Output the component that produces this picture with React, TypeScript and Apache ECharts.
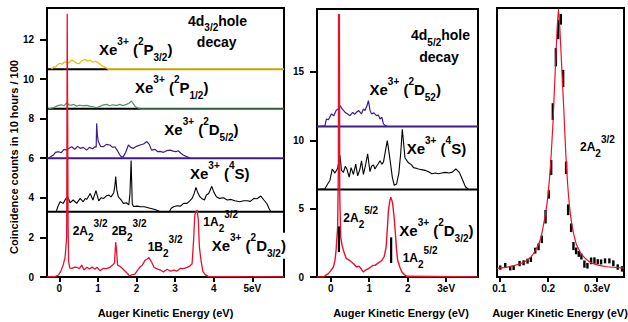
import React, { useEffect, useRef } from "react";
import * as echarts from "echarts";

const FF = "'Liberation Sans', Arial, Helvetica, sans-serif";

// ---------- axis limits & ticks ----------
const P1_X = [-0.319, 5.821];
const P1_Y = [0, 13.59];
const P2_X = [-0.356, 3.826];
const P2_Y = [0, 19.6];
const P3_X = [0.0953, 0.3551];
const P3_Y = [0, 100];
const P1_XTICKS = [0, 1, 2, 3, 4, 5];
const P1_YTICKS = [0, 2, 4, 6, 8, 10, 12];
const P2_XTICKS = [0, 1, 2, 3];
const P2_YTICKS = [0, 5, 10, 15];
const P3_XTICKS = [0.1, 0.2, 0.3];

// ---------- panel 1 : 4d3/2 hole decay ----------
const P1_OFFSETS = [10.5, 8.5, 6.0, 3.3];

const p1YellowE = [-0.2, -0.15, -0.1, -0.05, 0.02, 0.07, 0.12, 0.19, 0.25, 0.32, 0.38, 0.45, 0.52, 0.58, 0.67, 0.73, 0.8, 0.87, 0.93, 0.97, 1.03, 1.1, 1.18, 1.27];
const p1YellowV = [10.5, 10.62, 10.6, 10.72, 10.8, 10.75, 10.85, 10.87, 10.82, 10.96, 10.9, 10.8, 10.78, 10.92, 11.0, 10.9, 10.95, 10.85, 10.9, 10.87, 10.8, 10.67, 10.6, 10.5];

const p1GreenE = [-0.28, -0.15, -0.08, -0.02, 0.05, 0.12, 0.19, 0.25, 0.32, 0.38, 0.45, 0.52, 0.6, 0.71, 0.8, 0.88, 0.97, 1.05, 1.12, 1.23, 1.3, 1.38, 1.49, 1.57, 1.65, 1.74, 1.8, 1.87, 1.92, 1.96, 2.02, 2.09];
const p1GreenV = [8.5, 8.55, 8.62, 8.67, 8.7, 8.65, 8.8, 8.7, 8.68, 8.72, 8.63, 8.68, 8.65, 8.67, 8.62, 8.6, 8.55, 8.62, 8.68, 8.72, 8.65, 8.7, 8.67, 8.72, 8.66, 8.72, 8.78, 8.89, 8.75, 8.63, 8.55, 8.5];

const p1PurpleE = [-0.28, -0.155, -0.1, -0.02, 0.05, 0.12, 0.19, 0.25, 0.32, 0.4, 0.47, 0.54, 0.62, 0.71, 0.78, 0.86, 0.93, 0.955, 0.968, 0.985, 1.01, 1.07, 1.14, 1.22, 1.31, 1.38, 1.44, 1.5, 1.57, 1.62, 1.66, 1.72, 1.79, 1.85, 1.92, 2.0, 2.09, 2.18, 2.27, 2.33, 2.39, 2.48, 2.55, 2.61, 2.7, 2.78, 2.87, 2.95, 3.02, 3.08, 3.15, 3.21, 3.3, 3.38];
const p1PurpleV = [6.0, 6.16, 6.3, 6.33, 6.28, 6.45, 6.41, 6.5, 6.58, 6.45, 6.6, 6.5, 6.55, 6.41, 6.55, 6.48, 6.58, 6.55, 7.76, 7.2, 6.84, 6.6, 6.58, 6.7, 6.67, 6.55, 6.58, 6.4, 6.16, 6.05, 6.08, 6.3, 6.67, 6.55, 6.5, 6.6, 6.67, 6.72, 6.84, 6.7, 6.41, 6.45, 6.33, 6.35, 6.3, 6.38, 6.41, 6.36, 6.33, 6.38, 6.25, 6.16, 6.08, 6.02];

const p1BlackE = [-0.08, -0.04, 0.02, 0.1, 0.17, 0.22, 0.28, 0.36, 0.45, 0.54, 0.62, 0.67, 0.71, 0.8, 0.87, 0.95, 1.02, 1.08, 1.15, 1.22, 1.28, 1.34, 1.41, 1.44, 1.46, 1.49, 1.53, 1.6, 1.66, 1.74, 1.8, 1.83, 1.86, 1.89, 1.92, 2.02, 2.1, 2.2, 2.3, 2.4, 2.48, 2.56, 2.6, 2.85, 2.9, 2.96, 3.05, 3.14, 3.22, 3.31, 3.38, 3.44, 3.49, 3.54, 3.58, 3.64, 3.7, 3.76, 3.81, 3.87, 3.91, 3.95, 4.0, 4.07, 4.15, 4.25, 4.35, 4.45, 4.55, 4.67, 4.78, 4.87, 4.95, 5.04, 5.12, 5.22, 5.3, 5.38, 5.43, 5.48];
const p1BlackV = [3.3, 3.55, 3.8, 3.72, 3.97, 4.05, 3.75, 3.89, 3.72, 3.97, 3.8, 3.97, 3.92, 4.22, 3.89, 4.36, 3.85, 4.0, 3.97, 4.1, 4.14, 4.05, 4.26, 4.6, 5.07, 4.4, 4.05, 3.9, 3.72, 3.75, 3.64, 4.2, 5.88, 3.7, 3.56, 3.58, 3.55, 3.55, 3.5, 3.45, 3.41, 3.35, 3.3, 3.3, 3.47, 3.55, 3.6, 3.58, 3.72, 3.72, 3.85, 3.97, 4.2, 4.52, 4.3, 4.06, 3.95, 3.89, 4.14, 4.22, 4.4, 4.58, 4.3, 4.05, 3.97, 4.0, 3.89, 3.92, 3.85, 3.8, 3.85, 3.85, 3.82, 3.97, 3.95, 4.09, 3.89, 3.7, 3.47, 3.3];

const p1RedE = [-0.32, -0.1, -0.02, 0.04, 0.1, 0.15, 0.19, 0.205, 0.215, 0.228, 0.24, 0.27, 0.33, 0.4, 0.46, 0.52, 0.58, 0.64, 0.72, 0.78, 0.85, 0.92, 0.98, 1.05, 1.15, 1.22, 1.31, 1.38, 1.43, 1.46, 1.48, 1.51, 1.56, 1.63, 1.7, 1.76, 1.82, 1.89, 1.96, 2.02, 2.09, 2.15, 2.22, 2.27, 2.32, 2.36, 2.4, 2.45, 2.52, 2.62, 2.7, 2.79, 2.88, 2.97, 3.05, 3.14, 3.22, 3.31, 3.38, 3.44, 3.48, 3.51, 3.54, 3.57, 3.6, 3.63, 3.67, 3.72, 3.78, 3.86, 5.82];
const p1RedV = [0, 0.03, 0.1, 0.3, 0.6, 1.0, 2.0, 13.3, 13.3, 2.5, 0.8, 0.45, 0.44, 0.5, 0.49, 0.42, 0.6, 0.35, 0.49, 0.4, 0.5, 0.39, 0.49, 0.32, 0.44, 0.42, 0.49, 0.6, 0.7, 1.76, 1.4, 0.6, 0.55, 0.44, 0.3, 0.19, 0.05, 0.12, 0.15, 0.32, 0.5, 0.6, 0.84, 0.9, 0.98, 0.85, 0.72, 0.5, 0.42, 0.35, 0.25, 0.39, 0.3, 0.35, 0.3, 0.44, 0.42, 0.49, 0.55, 0.67, 1.9, 3.13, 3.3, 3.38, 2.9, 1.5, 0.85, 0.27, 0.12, 0.03, 0];

// ---------- panel 2 : 4d5/2 hole decay ----------
const P2_OFFSETS = [11.0, 6.4];

const p2PurpleE = [-0.36, -0.15, -0.11, -0.06, 0.02, 0.08, 0.14, 0.2, 0.24, 0.3, 0.37, 0.44, 0.5, 0.57, 0.62, 0.67, 0.73, 0.8, 0.85, 0.89, 0.94, 0.98, 1.02, 1.06, 1.12, 1.19, 1.24, 1.28, 1.33, 1.37, 1.42, 1.47];
const p2PurpleV = [11, 11.05, 11.56, 11.5, 11.93, 11.8, 12.17, 12.3, 12.53, 12.29, 12.05, 11.92, 11.8, 12.04, 11.9, 12.05, 12.17, 11.93, 12.29, 12.17, 12.5, 12.9, 12.2, 11.93, 12.0, 11.8, 11.85, 11.56, 11.68, 11.2, 11.07, 11.0];

const p2BlackE = [-0.36, -0.15, -0.08, -0.02, 0.04, 0.11, 0.18, 0.24, 0.28, 0.33, 0.38, 0.42, 0.48, 0.53, 0.59, 0.65, 0.7, 0.76, 0.8, 0.85, 0.91, 0.96, 1.02, 1.06, 1.11, 1.15, 1.19, 1.24, 1.28, 1.33, 1.37, 1.43, 1.47, 1.54, 1.6, 1.65, 1.71, 1.77, 1.82, 1.86, 1.93, 2.02, 2.1, 2.15, 2.22, 2.28, 2.36, 2.45, 2.54, 2.63, 2.72, 2.8, 2.88, 2.97, 3.06, 3.15, 3.25, 3.34, 3.41, 3.5, 3.58];
const p2BlackV = [6.4, 6.45, 6.8, 7.06, 7.9, 7.6, 7.95, 8.9, 7.8, 7.65, 8.1, 7.9, 7.3, 8.0, 7.5, 8.25, 7.4, 7.9, 8.5, 7.5, 8.25, 9.0, 7.7, 8.1, 8.2, 7.9, 8.1, 8.3, 8.5, 8.25, 8.4, 9.35, 9.97, 8.6, 7.3, 6.7, 6.8, 7.6, 9.1, 10.8, 8.7, 8.35, 8.2, 8.0, 7.95, 7.9, 7.85, 7.8, 7.7, 7.55, 7.6, 7.55, 7.6, 7.65, 7.6, 7.65, 7.9, 7.65, 7.2, 6.6, 6.4];

const p2RedE = [-0.36, -0.19, -0.12, -0.06, 0.0, 0.07, 0.11, 0.14, 0.18, 0.2, 0.205, 0.225, 0.235, 0.26, 0.29, 0.33, 0.37, 0.41, 0.47, 0.54, 0.6, 0.67, 0.74, 0.8, 0.85, 0.9, 0.98, 1.05, 1.1, 1.15, 1.22, 1.28, 1.33, 1.39, 1.44, 1.47, 1.5, 1.53, 1.56, 1.59, 1.61, 1.65, 1.68, 1.71, 1.74, 1.8, 1.85, 1.92, 1.98, 3.83];
const p2RedV = [0, 0, 0.15, 0.25, 0.45, 0.73, 1.2, 1.95, 3.65, 8, 19.2, 19.2, 6, 2.92, 2.4, 1.95, 1.6, 1.34, 1.25, 1.1, 0.95, 0.73, 0.8, 0.55, 0.37, 0.5, 0.61, 0.75, 0.85, 0.85, 1.0, 1.1, 1.22, 1.5, 2.19, 3.5, 4.87, 5.5, 5.84, 5.6, 5.35, 4.3, 3.16, 2.0, 1.22, 0.7, 0.37, 0.15, 0.05, 0];

const p2MarkE = [0.215, 1.57];
const p2MarkLo = [1.82, 1.02];
const p2MarkHi = [3.7, 2.9];

// ---------- panel 3 : 2A2 3/2 line, data with error bars + fit ----------
const p3DataE = [0.102, 0.1122, 0.1224, 0.1293, 0.1415, 0.1497, 0.1578, 0.1646, 0.1735, 0.1803, 0.187, 0.1946, 0.2014, 0.2061, 0.2095, 0.2157, 0.2204, 0.2259, 0.2306, 0.2367, 0.2408, 0.2469, 0.2517, 0.2571, 0.2626, 0.268, 0.2741, 0.2803, 0.2878, 0.2946, 0.3014, 0.3082, 0.3163, 0.3252, 0.3333, 0.3422, 0.351];
const p3DataV = [3.5, 4.3, 3.2, 3.4, 5.0, 5.3, 5.9, 6.5, 9.8, 11.2, 14, 22.4, 30.7, 40.7, 61.5, 81.7, 92.0, 95.8, 73.8, 40.6, 25.0, 18.3, 11.5, 9.7, 8.6, 7.6, 4.8, 4.2, 6.0, 6.1, 5.7, 5.6, 6.0, 6.0, 5.1, 3.7, 3.0];
const p3DataErr = [0.8, 0.93, 0.75, 0.8, 1.0, 0.93, 0.93, 0.93, 1.1, 1.25, 1.4, 2.5, 1.55, 2.8, 3.1, 3.4, 3.6, 2.0, 3.2, 2.3, 2.0, 1.6, 1.5, 1.25, 1.1, 1.1, 1.35, 1.05, 1.25, 1.2, 0.93, 0.93, 0.93, 0.93, 1.1, 1.0, 1.0];

const p3FitE = [0.0953, 0.11, 0.13, 0.15, 0.165, 0.177, 0.185, 0.19, 0.195, 0.2, 0.205, 0.21, 0.214, 0.218, 0.221, 0.224, 0.228, 0.232, 0.236, 0.24, 0.245, 0.25, 0.258, 0.27, 0.285, 0.3, 0.32, 0.3551];
const p3FitV = [3.2, 3.5, 4.2, 5.5, 7.5, 11, 14.5, 19, 24, 31, 42, 58, 75, 91, 99.6, 92, 77, 62, 46, 34, 24, 18, 12, 8, 5.6, 4.5, 3.8, 3.3];

// ---------- colours ----------
const RED = "#e8112d";
const YELLOW = "#f2bb0c";
const YELLOW_DARK = "#c9a300";
const GREEN = "#56906a";
const GREEN_DARK = "#2f5b42";
const PURPLE = "#3d1c8e";
const BLACK = "#000000";

const zip = (xs: number[], ys: number[]) => xs.map((x, i) => [x, ys[i]]);

function lineSeries(grid: number, data: number[][], color: string, width: number, z: number) {
  return {
    type: "line",
    xAxisIndex: grid,
    yAxisIndex: grid,
    data,
    symbol: "none",
    showSymbol: false,
    lineStyle: { color, width },
    itemStyle: { color },
    silent: true,
    z,
  };
}

const RICH = {
  big: {
    off: 18.2,
    rich: {
      m: { fontSize: 15, lineHeight: 26, fontWeight: "bold", fontFamily: FF, color: "#000" },
      sup: { fontSize: 10, lineHeight: 10, fontWeight: "bold", fontFamily: FF, color: "#000", verticalAlign: "top" },
      sub: { fontSize: 10, lineHeight: 11, fontWeight: "bold", fontFamily: FF, color: "#000", verticalAlign: "bottom" },
    },
  },
  title: {
    off: 16.85,
    rich: {
      m: { fontSize: 14, lineHeight: 24, fontWeight: "bold", fontFamily: FF, color: "#000" },
      sub: { fontSize: 10, lineHeight: 10, fontWeight: "bold", fontFamily: FF, color: "#000", verticalAlign: "bottom" },
    },
  },
  small: {
    off: 16.17,
    rich: {
      m: { fontSize: 12, lineHeight: 24, fontWeight: "bold", fontFamily: FF, color: "#000" },
      sup: { fontSize: 10, lineHeight: 10, fontWeight: "bold", fontFamily: FF, color: "#000", verticalAlign: "top" },
      sub: { fontSize: 10, lineHeight: 16, fontWeight: "bold", fontFamily: FF, color: "#000", verticalAlign: "bottom" },
    },
  },
};

function richText(x: number, baseline: number, tokens: [string, string][], kind: "big" | "title" | "small", align = "left", bg?: string) {
  const k = RICH[kind];
  const style: any = {
    text: tokens.map(([s, t]) => `{${s}|${t}}`).join(""),
    rich: k.rich,
    align,
    textAlign: align,
    verticalAlign: "top",
    textVerticalAlign: "top",
    fill: "#000",
  };
  if (bg) style.backgroundColor = bg;
  return { type: "text", x, y: baseline - k.off, z: 100, style };
}

const xe = (term: string, letter: string, sub?: string): [string, string][] => {
  const t: [string, string][] = [["m", "Xe"], ["sup", "3+"], ["m", " ("], ["sup", term], ["m", letter]];
  if (sub) t.push(["sub", sub]);
  t.push(["m", ")"]);
  return t;
};
const peak = (name: string, sup: string): [string, string][] => [["m", name], ["sub", "2"], ["sup", sup]];

function buildOption() {
  const axisLine = { show: true, onZero: false, lineStyle: { color: "#000", width: 2 } };
  const tickStyle = { color: "#000", width: 2 };
  const labelStyle = { fontSize: 10, fontWeight: "bold", color: "#000", fontFamily: FF };

  const grids = [
    { left: 47, top: 8, width: 237, height: 269 },
    { left: 317, top: 9, width: 161, height: 268 },
    { left: 497, top: 8, width: 127, height: 269 },
  ].map((g) => ({ ...g, show: true, borderColor: "#000", borderWidth: 2, backgroundColor: "transparent", containLabel: false }));

  const xAxes = [
    { ext: P1_X, ticks: P1_XTICKS, fmt: (v: number) => (v === 5 ? "5eV" : String(v)) },
    { ext: P2_X, ticks: P2_XTICKS, fmt: (v: number) => (v === 3 ? "3eV" : String(v)) },
    { ext: P3_X, ticks: P3_XTICKS, fmt: (v: number) => (Math.abs(v - 0.3) < 1e-9 ? "0.3eV" : String(v)) },
  ].map((a, i) => ({
    type: "value",
    gridIndex: i,
    min: a.ext[0],
    max: a.ext[1],
    axisLine,
    axisTick: { show: true, inside: false, length: 5, lineStyle: tickStyle, customValues: a.ticks },
    axisLabel: { ...labelStyle, margin: 6, customValues: a.ticks, formatter: a.fmt, showMinLabel: true, showMaxLabel: true },
    splitLine: { show: false },
  }));

  const yAxes = [
    { ext: P1_Y, ticks: P1_YTICKS, show: true },
    { ext: P2_Y, ticks: P2_YTICKS, show: true },
    { ext: P3_Y, ticks: [] as number[], show: false },
  ].map((a, i) => ({
    type: "value",
    gridIndex: i,
    min: a.ext[0],
    max: a.ext[1],
    axisLine,
    axisTick: { show: a.show, inside: false, length: 7, lineStyle: tickStyle, customValues: a.ticks },
    axisLabel: { show: a.show, ...labelStyle, margin: 13, customValues: a.ticks },
    splitLine: { show: false },
  }));

  const series: any[] = [];
  // panel 1 separators
  const yEnd = p1YellowE[p1YellowE.length - 1];
  const gEnd = p1GreenE[p1GreenE.length - 1];
  series.push(lineSeries(0, [[P1_X[0], P1_OFFSETS[0]], [yEnd, P1_OFFSETS[0]]], BLACK, 2, 1));
  series.push(lineSeries(0, [[yEnd, P1_OFFSETS[0]], [P1_X[1], P1_OFFSETS[0]]], YELLOW_DARK, 2, 1));
  series.push(lineSeries(0, [[P1_X[0], P1_OFFSETS[1]], [gEnd, P1_OFFSETS[1]]], BLACK, 2, 1));
  series.push(lineSeries(0, [[gEnd, P1_OFFSETS[1]], [P1_X[1], P1_OFFSETS[1]]], GREEN_DARK, 2, 1));
  series.push(lineSeries(0, [[P1_X[0], P1_OFFSETS[2]], [P1_X[1], P1_OFFSETS[2]]], PURPLE, 2, 1));
  series.push(lineSeries(0, [[P1_X[0], P1_OFFSETS[3]], [P1_X[1], P1_OFFSETS[3]]], BLACK, 2, 1));
  // panel 1 spectra
  series.push(lineSeries(0, zip(p1YellowE, p1YellowV), YELLOW, 1.3, 2));
  series.push(lineSeries(0, zip(p1GreenE, p1GreenV), GREEN, 1.2, 2));
  series.push(lineSeries(0, zip(p1PurpleE, p1PurpleV), PURPLE, 1.2, 2));
  series.push(lineSeries(0, zip(p1BlackE, p1BlackV), BLACK, 1.1, 2));
  series.push(lineSeries(0, zip(p1RedE, p1RedV), RED, 1.3, 3));

  // panel 2
  series.push(lineSeries(1, [[P2_X[0], P2_OFFSETS[0]], [P2_X[1], P2_OFFSETS[0]]], PURPLE, 2, 1));
  series.push(lineSeries(1, [[P2_X[0], P2_OFFSETS[1]], [P2_X[1], P2_OFFSETS[1]]], BLACK, 2, 1));
  series.push(lineSeries(1, zip(p2PurpleE, p2PurpleV), PURPLE, 1.2, 2));
  series.push(lineSeries(1, zip(p2BlackE, p2BlackV), BLACK, 1.1, 2));
  series.push(lineSeries(1, zip(p2RedE, p2RedV), RED, 1.4, 3));
  series.push({
    type: "custom",
    xAxisIndex: 1,
    yAxisIndex: 1,
    data: p2MarkE.map((e, i) => [e, p2MarkLo[i], p2MarkHi[i]]),
    encode: { x: 0, y: [1, 2] },
    silent: true,
    z: 5,
    renderItem: (_p: any, api: any) => {
      const a = api.coord([api.value(0), api.value(1)]);
      const b = api.coord([api.value(0), api.value(2)]);
      return { type: "line", shape: { x1: a[0], y1: a[1], x2: b[0], y2: b[1] }, style: { stroke: "#000", lineWidth: 2.2 } };
    },
  });

  // panel 3
  series.push({
    type: "custom",
    xAxisIndex: 2,
    yAxisIndex: 2,
    data: p3DataE.map((e, i) => [e, p3DataV[i] - p3DataErr[i], p3DataV[i] + p3DataErr[i]]),
    encode: { x: 0, y: [1, 2] },
    silent: true,
    z: 2,
    renderItem: (_p: any, api: any) => {
      const a = api.coord([api.value(0), api.value(1)]);
      const b = api.coord([api.value(0), api.value(2)]);
      return { type: "line", shape: { x1: a[0], y1: a[1], x2: b[0], y2: b[1] }, style: { stroke: "#000", lineWidth: 2.4 } };
    },
  });
  series.push({ ...lineSeries(2, zip(p3FitE, p3FitV), RED, 1.2, 3), smooth: 0.15 });

  const graphic: any[] = [
    // panel 1 labels
    richText(217.5, 25.7, [["m", "4d"], ["sub", "3/2"], ["m", "hole"]], "title", "center"),
    richText(216.7, 46.7, [["m", "decay"]], "title", "center"),
    richText(99, 55, xe("2", "P", "3/2"), "big"),
    richText(135, 92.7, xe("2", "P", "1/2"), "big"),
    richText(164.3, 135, xe("2", "D", "5/2"), "big"),
    richText(190, 179, xe("4", "S"), "big"),
    richText(211.7, 251, xe("2", "D", "3/2"), "big", "left", "#fff"),
    richText(72.7, 235, peak("2A", "3/2"), "small"),
    richText(111.7, 235, peak("2B", "3/2"), "small"),
    richText(147.7, 250.7, peak("1B", "3/2"), "small"),
    richText(203.3, 226, peak("1A", "3/2"), "small"),
    // panel 2 labels
    richText(440.5, 40, [["m", "4d"], ["sub", "5/2"], ["m", "hole"]], "title", "center"),
    richText(439, 61.7, [["m", "decay"]], "title", "center"),
    richText(369.5, 95, xe("2", "D", "52"), "big"),
    richText(406.7, 153.5, xe("4", "S"), "big"),
    richText(343.3, 221.7, peak("2A", "5/2"), "small"),
    richText(399.3, 236, xe("2", "D", "3/2"), "big"),
    richText(402.7, 261.7, peak("1A", "5/2"), "small"),
    // panel 3 label
    richText(580, 151, peak("2A", "3/2"), "small"),
    // axis titles
    ...[165.5, 401, 560].map((cx) => ({
      type: "text",
      x: cx,
      y: 313,
      z: 100,
      style: { text: "Auger Kinetic Energy (eV)", font: `bold 11px ${FF}`, fill: "#000", align: "center", textAlign: "center", verticalAlign: "middle", textVerticalAlign: "middle" },
    })),
    {
      type: "text",
      x: 14,
      y: 157,
      rotation: Math.PI / 2,
      z: 100,
      style: { text: "Coincidence counts in 10 hours / 100", font: `bold 11px ${FF}`, fill: "#000", align: "center", textAlign: "center", verticalAlign: "middle", textVerticalAlign: "middle" },
    },
  ];

  return {
    animation: false,
    backgroundColor: "#fff",
    grid: grids,
    xAxis: xAxes,
    yAxis: yAxes,
    series,
    graphic,
  };
}

export default function App() {
  const ref = useRef<HTMLDivElement>(null);
  useEffect(() => {
    if (!ref.current) return;
    const chart = echarts.init(ref.current, null, { renderer: "svg" });
    chart.setOption(buildOption() as any);
    return () => chart.dispose();
  }, []);
  return <div ref={ref} style={{ position: "absolute", left: 0, top: 0, width: 628, height: 322, background: "#fff" }} />;
}
